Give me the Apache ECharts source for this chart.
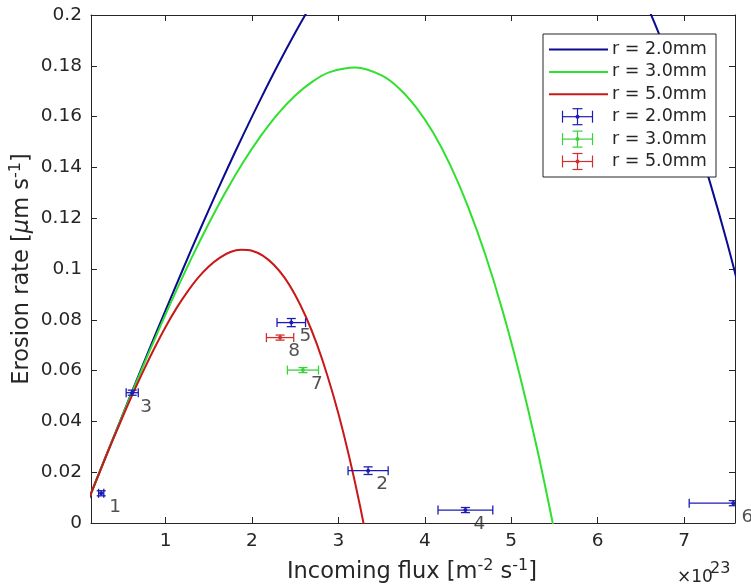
<!DOCTYPE html>
<html><head><meta charset="utf-8">
<script src="https://cdn.jsdelivr.net/npm/echarts@6/dist/echarts.min.js"></script>
<style>html,body{margin:0;padding:0;background:#fff}#c{width:751px;height:587px}</style>
</head><body><div id="c"></div>
<script>
// ---- axis ticks ----
const xTicks = [1, 2, 3, 4, 5, 6, 7];
const yTicks = [0, 0.02, 0.04, 0.06, 0.08, 0.1, 0.12, 0.14, 0.16, 0.18, 0.2];
const xMin = 0.137, xMax = 7.59, yMin = 0, yMax = 0.2;

// ---- model curves ----
const curveNames = ['r = 2.0mm', 'r = 3.0mm', 'r = 5.0mm'];
const blueX = [0.1, 0.3, 0.5, 0.7, 0.9, 1.1, 1.3, 1.5, 1.7, 1.9, 2.1, 2.3, 2.5, 2.7, 2.9, 3.5, 4.5, 5.5, 6.1, 6.3, 6.5, 6.7, 6.9, 7.1, 7.3, 7.5, 7.7];
const blueY = [0.0085, 0.0255, 0.0423, 0.0591, 0.0756, 0.0918, 0.1078, 0.1233, 0.1384, 0.1529, 0.1669, 0.1803, 0.1930, 0.2049, 0.2160, 0.2439, 0.2686, 0.2595, 0.2348, 0.2229, 0.2092, 0.1935, 0.1759, 0.1561, 0.1342, 0.1102, 0.0838];
const greenX = [0.1, 0.3, 0.5, 0.7, 0.9, 1.1, 1.3, 1.5, 1.7, 1.9, 2.1, 2.3, 2.5, 2.7, 2.9, 3.2, 3.5, 3.7, 3.9, 4.1, 4.3, 4.5, 4.7, 4.9, 5.1, 5.3, 5.5];
const greenY = [0.0085, 0.0254, 0.0421, 0.0585, 0.0744, 0.0897, 0.1043, 0.1179, 0.1306, 0.1421, 0.1523, 0.1611, 0.1683, 0.1738, 0.1775, 0.1793, 0.1762, 0.1712, 0.1636, 0.1535, 0.1405, 0.1246, 0.1057, 0.0836, 0.0581, 0.0292, -0.0033];
const redX = [0.1, 0.25, 0.375, 0.5, 0.625, 0.75, 0.875, 1.0, 1.125, 1.25, 1.375, 1.5, 1.625, 1.75, 1.875, 2.0, 2.125, 2.25, 2.375, 2.5, 2.625, 2.75, 2.875, 3.0, 3.125, 3.25, 3.375];
const redY = [0.0085, 0.0211, 0.0315, 0.0415, 0.0512, 0.0604, 0.0691, 0.0772, 0.0845, 0.0909, 0.0965, 0.1010, 0.1044, 0.1067, 0.1076, 0.1072, 0.1053, 0.1018, 0.0967, 0.0898, 0.0811, 0.0705, 0.0578, 0.0431, 0.0261, 0.0068, -0.0149];

// ---- measurements ----
const expLabels = ['1', '2', '3', '4', '5', '6', '7', '8'];
const expX    = [0.255, 3.344, 0.614, 4.47, 2.455, 7.57, 2.59, 2.325];
const expY    = [0.0117, 0.0206, 0.0513, 0.0051, 0.0789, 0.0078, 0.0602, 0.0730];
const expXErr = [0.03, 0.232, 0.07, 0.317, 0.165, 0.51, 0.18, 0.158];
const expYErr = [0.001, 0.0015, 0.001, 0.001, 0.0016, 0.001, 0.001, 0.001];
const expGroup = [0, 0, 0, 0, 0, 0, 1, 2];

const lineColors = ['#0b0b8f', '#2fe02f', '#c81818'];
const errColors  = ['#1c1cb4', '#3ad23a', '#d03030'];
const ink = '#262626';
const FONT = 'DejaVu Sans';

const chart = echarts.init(document.getElementById('c'), null, {renderer: 'canvas'});

function pairs(xs, ys) { return xs.map((x, i) => [x, ys[i]]); }

function errRender(color) {
  return function (params, api) {
    const x = api.value(0), y = api.value(1), xe = api.value(2), ye = api.value(3);
    const c = api.coord([x, y]);
    const l = api.coord([x - xe, y]);
    const r = api.coord([x + xe, y]);
    const t = api.coord([x, y + ye]);
    const b = api.coord([x, y - ye]);
    const cap = 4.5;
    const st = {stroke: color, lineWidth: 1.3, fill: null};
    const ln = (x1, y1, x2, y2) => ({type: 'line', shape: {x1, y1, x2, y2}, style: st});
    return {
      type: 'group',
      children: [
        ln(l[0], c[1], r[0], c[1]),
        ln(l[0], c[1] - cap, l[0], c[1] + cap),
        ln(r[0], c[1] - cap, r[0], c[1] + cap),
        ln(c[0], t[1], c[0], b[1]),
        ln(c[0] - cap, t[1], c[0] + cap, t[1]),
        ln(c[0] - cap, b[1], c[0] + cap, b[1]),
        {type: 'circle', shape: {cx: c[0], cy: c[1], r: 2}, style: {fill: color}}
      ]
    };
  };
}

const series = [];
const curves = [[blueX, blueY], [greenX, greenY], [redX, redY]];
curves.forEach((cv, i) => {
  series.push({
    type: 'line', name: curveNames[i], data: pairs(cv[0], cv[1]),
    smooth: 0.35, showSymbol: false, symbol: 'none', clip: true,
    lineStyle: {color: lineColors[i], width: 2, join: 'round'}, z: 2
  });
});
[0, 1, 2].forEach(g => {
  const d = [];
  expX.forEach((x, i) => { if (expGroup[i] === g) d.push([x, expY[i], expXErr[i], expYErr[i]]); });
  series.push({
    type: 'custom', name: curveNames[g], data: d, clip: true,
    renderItem: errRender(errColors[g]), encode: {x: 0, y: 1}, z: 3
  });
});
series.push({
  type: 'scatter', data: expX.map((x, i) => [x, expY[i], expLabels[i]]),
  symbol: 'circle', symbolSize: 0.1, itemStyle: {color: 'rgba(0,0,0,0)'}, clip: false,
  label: {show: true, position: 'inside', offset: [14, 14], formatter: p => p.data[2],
          color: ink, fontSize: 18.5, fontFamily: FONT}, z: 4
});

// legend drawn as graphic
const lg = {x: 543, y: 34, w: 173, h: 143};
const rowY = [49.5, 71.9, 94.3, 116.7, 139.1, 161.5];
const legendNames = curveNames.concat(curveNames);
const graphic = [];
graphic.push({type: 'rect', shape: {x: lg.x, y: lg.y, width: lg.w, height: lg.h},
  style: {fill: '#fff', stroke: ink, lineWidth: 1}, z: 100});
legendNames.forEach((nm, i) => {
  const y = rowY[i];
  if (i < 3) {
    graphic.push({type: 'line', shape: {x1: 549, y1: y, x2: 608, y2: y},
      style: {stroke: lineColors[i], lineWidth: 2}, z: 101});
  } else {
    const col = errColors[i - 3], cx = 577.5, st = {stroke: col, lineWidth: 1.2};
    const segs = [[cx - 15, y, cx + 15, y], [cx - 15, y - 6, cx - 15, y + 6], [cx + 15, y - 6, cx + 15, y + 6],
                  [cx, y - 8, cx, y + 8], [cx - 5, y - 8, cx + 5, y - 8], [cx - 5, y + 8, cx + 5, y + 8]];
    segs.forEach(s => graphic.push({type: 'line', shape: {x1: s[0], y1: s[1], x2: s[2], y2: s[3]}, style: st, z: 101}));
    graphic.push({type: 'circle', shape: {cx: cx, cy: y, r: 2}, style: {fill: col}, z: 101});
  }
  graphic.push({type: 'text', x: 612, y: y, z: 101,
    style: {text: nm, fill: ink, font: '17.5px "' + FONT + '"', verticalAlign: 'middle'}});
});

// axis titles (rich text for superscripts)
function richFor(size, sup) {
  return {
    n: {fontSize: size, fontFamily: FONT, fill: ink, color: ink, lineHeight: 28, verticalAlign: 'middle'},
    i: {fontSize: size, fontFamily: FONT, fill: ink, color: ink, lineHeight: 28, verticalAlign: 'middle', fontStyle: 'italic'},
    s: {fontSize: sup, fontFamily: FONT, fill: ink, color: ink, lineHeight: 15, verticalAlign: 'top'}
  };
}
graphic.push({type: 'text', x: 412, y: 572, z: 50,
  style: {text: '{n|Incoming flux [m}{s|-2}{n| s}{s|-1}{n|]}', fill: ink, font: '22.5px "' + FONT + '"',
          align: 'center', verticalAlign: 'middle', rich: richFor(22.5, 16)}});
graphic.push({type: 'text', x: 22, y: 269, rotation: Math.PI / 2, z: 50,
  style: {text: '{n|Erosion rate [}{i|μ}{n|m s}{s|-1}{n|]}', fill: ink, font: '22.5px "' + FONT + '"',
          align: 'center', verticalAlign: 'middle', rich: richFor(22.5, 16)}});
graphic.push({type: 'text', x: 677, y: 578, z: 50,
  style: {text: '×10', fill: ink, font: '17px "' + FONT + '"', align: 'left', verticalAlign: 'middle'}});
graphic.push({type: 'text', x: 710, y: 569, z: 50,
  style: {text: '23', fill: ink, font: '16px "' + FONT + '"', align: 'left', verticalAlign: 'middle'}});

const tickCommon = {show: true, inside: true, length: 6, lineStyle: {color: ink, width: 1}};
const lineCommon = {show: true, onZero: false, lineStyle: {color: ink, width: 1}};

const option = {
  animation: false,
  backgroundColor: '#fff',
  grid: {left: 91, right: 16, top: 15, bottom: 64, containLabel: false},
  xAxis: [
    {type: 'value', min: xMin, max: xMax, position: 'bottom',
     axisLine: lineCommon, axisTick: Object.assign({customValues: xTicks}, tickCommon),
     axisLabel: {customValues: xTicks, color: ink, fontSize: 18.5, fontFamily: FONT, margin: 9, formatter: v => String(v)},
     splitLine: {show: false}},
    {type: 'value', min: xMin, max: xMax, position: 'top',
     axisLine: lineCommon, axisTick: Object.assign({customValues: xTicks}, tickCommon),
     axisLabel: {show: false}, splitLine: {show: false}}
  ],
  yAxis: [
    {type: 'value', min: yMin, max: yMax, position: 'left',
     axisLine: lineCommon, axisTick: Object.assign({customValues: yTicks}, tickCommon),
     axisLabel: {customValues: yTicks, color: ink, fontSize: 18.5, fontFamily: FONT, margin: 9,
                 formatter: v => String(+(+v).toFixed(2))},
     splitLine: {show: false}},
    {type: 'value', min: yMin, max: yMax, position: 'right',
     axisLine: lineCommon, axisTick: Object.assign({customValues: yTicks}, tickCommon),
     axisLabel: {show: false}, splitLine: {show: false}}
  ],
  series: series,
  graphic: graphic
};
chart.setOption(option);
</script>
</body></html>
